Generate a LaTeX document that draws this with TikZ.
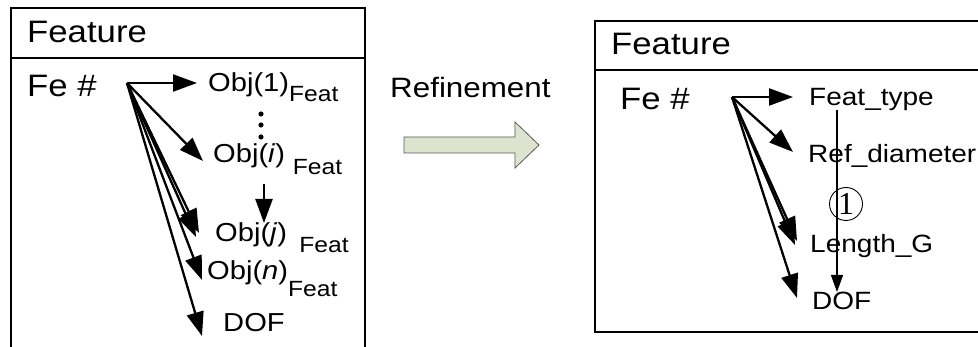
\documentclass[tikz,border=0pt]{standalone}
\usepackage{fontspec}
\setmainfont{Liberation Sans}
\newfontfamily\circfont{Liberation Serif}
\usetikzlibrary{arrows.meta}
\definecolor{sage}{RGB}{221,227,205}
\definecolor{sageline}{RGB}{90,90,90}
\newcommand{\subtxt}[2]{\raisebox{-#2pt}{\fontsize{22}{22}\selectfont #1}}
\begin{document}
\begin{tikzpicture}[x=1pt,y=-1pt,
  txt/.style={inner sep=0pt, anchor=base west, xscale=1.12},
  bigtxt/.style={txt, font=\fontsize{31}{31}\selectfont},
  objtxt/.style={txt, font=\fontsize{26}{26}\selectfont},
  rtxt/.style={txt, font=\fontsize{25}{25}\selectfont},
  boxline/.style={line width=2.4pt},
  arr/.style={line width=2.3pt, -{Triangle[length=24pt,width=17pt]}},
  thinarr/.style={line width=1.1pt, -{Triangle[length=17pt,width=12pt]}},
]
\clip (0,0) rectangle (978,347);
\fill[white] (0,0) rectangle (978,347);

% ---------- left panel ----------
\draw[boxline] (11,8) rectangle (365,370);
\draw[boxline] (11,58) -- (365,58);
\node[bigtxt] (lhead) at (27,43) {Feature};
\node[bigtxt] (lfe) at (27,97) {Fe \#};

\node[objtxt] (o1) at (208,92) {Obj(1)\subtxt{Feat}{10}};
\node[objtxt] (oi) at (213,163) {Obj(\textit{i})\hspace{7pt}\subtxt{Feat}{12}};
\node[objtxt] (oj) at (215,242) {Obj(\textit{j})\hspace{11pt}\subtxt{Feat}{11}};
\node[objtxt] (on) at (207,280) {Obj(\textit{n})\subtxt{Feat}{17}};
\node[objtxt] (ldof) at (223,332) {DOF};

\coordinate (L0) at (127,83);
\coordinate (t1) at (197,83);
\coordinate (ti) at (203,161);
\coordinate (tj) at (196,237);
\coordinate (tj2) at (199,233);
\coordinate (tn) at (202,280);
\coordinate (td) at (202,336);
\draw[arr] (L0) -- (t1);
\draw[arr] (L0) -- (ti);
\draw[arr] (L0) -- (tj);
\draw[arr] (L0) -- (tj2);
\draw[arr] (L0) -- (tn);
\draw[arr] (L0) -- (td);

\foreach \yy in {114,125,137}
  \fill (261,\yy) circle (2.6pt);
\coordinate (vs) at (264,184);
\coordinate (ve) at (264,223);
\draw[arr] (vs) -- (ve);

% ---------- refinement ----------
\node[txt, font=\fontsize{28}{28}\selectfont] (ref) at (390,98) {Refinement};
\draw[draw=sageline, fill=sage, line width=0.8pt]
  (404,137) -- (515,137) -- (515,122) -- (539,145) -- (515,168) -- (515,153) -- (404,153) -- cycle;

% ---------- right panel ----------
\draw[boxline] (595,21) rectangle (990,332);
\draw[boxline] (595,70) -- (990,70);
\node[bigtxt] (rhead) at (611,55) {Feature};
\node[bigtxt] (rfe) at (620,110) {Fe \#};

\node[rtxt] (ft) at (809,106) {Feat\_type};
\node[rtxt] (rd) at (808,163) {Ref\_diameter};
\node[rtxt] (lg) at (810,253) {Length\_G};
\node[rtxt] (rdof) at (812,310) {DOF};

\coordinate (R0) at (732,97);
\coordinate (r1) at (793,97);
\coordinate (r2) at (793,152);
\coordinate (r3) at (795,245);
\coordinate (r3b) at (797,241);
\coordinate (r4) at (797,298);
\draw[arr] (R0) -- (r1);
\draw[arr] (R0) -- (r2);
\draw[arr] (R0) -- (r3);
\draw[arr] (R0) -- (r3b);
\draw[arr] (R0) -- (r4);

\coordinate (ts) at (837,110);
\coordinate (te) at (837,292);
\draw[thinarr] (ts) -- (te);
\node[circle, draw, line width=0.9pt, inner sep=0pt, minimum size=33pt,
      font=\circfont\fontsize{32}{32}\selectfont] (c1) at (846,204) {1};
\end{tikzpicture}
\end{document}
